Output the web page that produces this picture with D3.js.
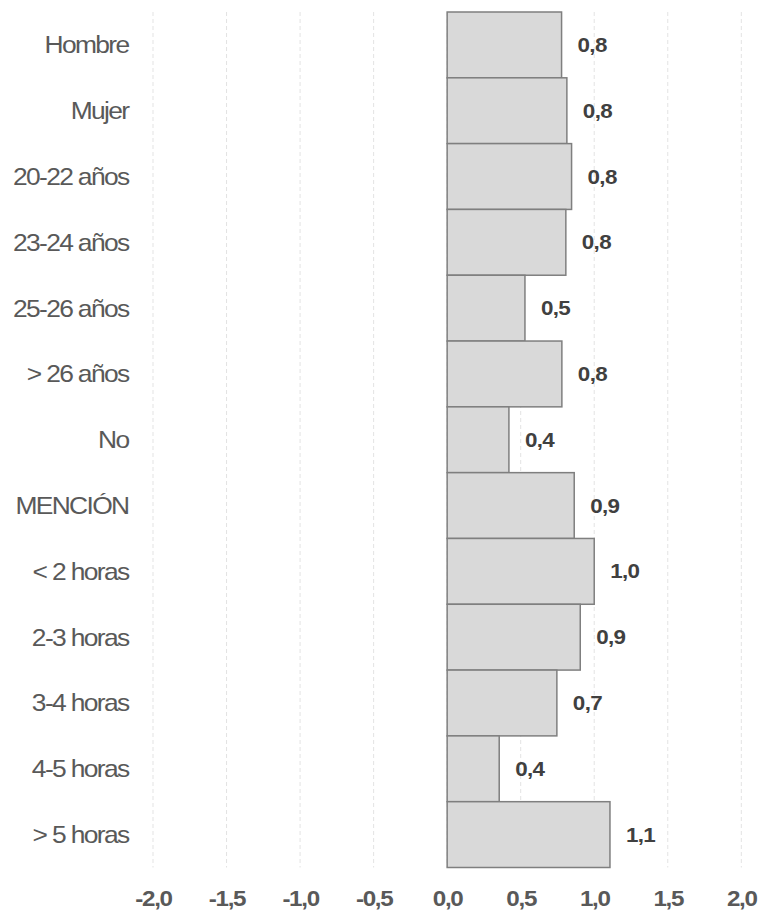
<!DOCTYPE html>
<html>
<head>
<meta charset="utf-8">
<script src="https://cdn.jsdelivr.net/npm/d3@7"></script>
<style>
  html, body { margin: 0; padding: 0; background: #fff; }
  svg { display: block; }
  text { font-family: "Liberation Sans", Arial, sans-serif; }
</style>
</head>
<body>
<svg id="chart" width="762" height="913"></svg>
<script>
// Categories, top to bottom
const categories = [
  "Hombre", "Mujer", "20-22 años", "23-24 años", "25-26 años", "> 26 años",
  "No", "MENCIÓN", "< 2 horas", "2-3 horas", "3-4 horas", "4-5 horas", "> 5 horas"
];
// Mean values per category
const values = [0.778, 0.814, 0.846, 0.807, 0.529, 0.78, 0.42, 0.864, 1.0, 0.905, 0.746, 0.354, 1.107];
// Axis ticks
const xTicks = [-2.0, -1.5, -1.0, -0.5, 0.0, 0.5, 1.0, 1.5, 2.0];

const data = categories.map((c, i) => ({ cat: c, val: values[i] }));
// One decimal, comma separator, plain hyphen for negatives
const fmt = v => d3.format(".1f")(v).replace(".", ",").replace("\u2212", "-");

const svg = d3.select("#chart");
const x = d3.scaleLinear().domain([-2, 2]).range([153, 741.3]);
const y = d3.scaleBand().domain(categories).range([12, 867.5]).paddingInner(0).paddingOuter(0);

// Dashed vertical gridlines
svg.append("g")
  .selectAll("line")
  .data(xTicks)
  .join("line")
  .attr("x1", d => x(d)).attr("x2", d => x(d))
  .attr("y1", 12).attr("y2", 867.5)
  .attr("stroke", "#e3e3e3")
  .attr("stroke-width", 1)
  .attr("stroke-dasharray", "4,3");

// Bars
svg.append("g")
  .selectAll("rect")
  .data(data)
  .join("rect")
  .attr("x", d => x(Math.min(0, d.val)))
  .attr("y", d => y(d.cat))
  .attr("width", d => Math.abs(x(d.val) - x(0)))
  .attr("height", y.bandwidth())
  .attr("fill", "#d9d9d9")
  .attr("stroke", "#7f7f7f")
  .attr("stroke-width", 1.5);

// Value labels
svg.append("g")
  .selectAll("text")
  .data(data)
  .join("text")
  .attr("transform", d => `translate(${x(d.val) + 16},${y(d.cat) + y.bandwidth() / 2}) scale(1.12,1)`)
  .attr("dy", "0.35em")
  .attr("font-size", 20)
  .attr("font-weight", "bold")
  .attr("letter-spacing", "-0.6px")
  .attr("fill", "#404040")
  .text(d => fmt(d.val));

// Category labels
svg.append("g")
  .selectAll("text")
  .data(data)
  .join("text")
  .attr("transform", d => `translate(128.5,${y(d.cat) + y.bandwidth() / 2}) scale(1.1,1)`)
  .attr("dy", "0.35em")
  .attr("text-anchor", "end")
  .attr("font-size", 24)
  .attr("letter-spacing", "-1.5px")
  .attr("fill", "#595959")
  .text(d => d.cat);

// X axis tick labels
const xAxis = d3.axisBottom(x).tickValues(xTicks).tickSize(0).tickPadding(0).tickFormat(fmt);
const gx = svg.append("g").attr("transform", "translate(0,898)").call(xAxis);
gx.select(".domain").remove();
gx.selectAll("text")
  .attr("font-size", 22)
  .attr("font-weight", "bold")
  .attr("letter-spacing", "-1.2px")
  .attr("fill", "#595959")
  .attr("font-family", "Liberation Sans, Arial, sans-serif")
  .attr("dy", "0.35em")
  .attr("y", 0)
  .attr("transform", "scale(1.1,1)");
</script>
</body>
</html>
